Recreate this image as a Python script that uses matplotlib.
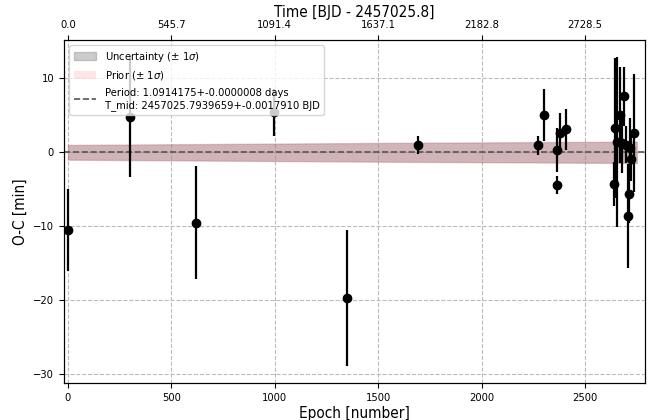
import matplotlib.pyplot as plt
import matplotlib.patches as mpatches
from matplotlib.lines import Line2D

plt.rcParams['font.family'] = ['DejaVu Sans']
plt.rcParams['font.stretch'] = 'condensed'

# -----------------------------------
# Data
# -----------------------------------
period = 1.0914175
epoch = [0, 300, 619, 998, 1347, 1690, 2270, 2300, 2366, 2366, 2377, 2408,
         2638, 2645, 2652, 2668, 2680, 2690, 2697, 2705, 2712, 2718, 2724, 2738]
oc = [-10.5, 4.8, -9.5, 5.4, -19.7, 0.95, 0.95, 5.0, 0.35, -4.4, 2.65, 3.1,
      -4.3, 3.3, 1.4, 5.0, 1.2, 7.6, 1.0, -8.6, -5.6, 0.6, -0.85, 2.65]
oc_err = [5.5, 8.2, 7.6, 3.2, 9.2, 1.2, 1.3, 3.5, 3.0, 1.2, 2.6, 2.8,
          3.0, 9.5, 11.5, 6.5, 4.0, 4.0, 2.5, 7.0, 4.0, 4.0, 3.0, 8.0]

band_epoch = [0, 1500, 2750]
band_halfwidth = [1.0, 1.27, 1.45]

xticks = [0, 500, 1000, 1500, 2000, 2500]
yticks = [-30, -20, -10, 0, 10]

# -----------------------------------
# Plot
# -----------------------------------
fig = plt.figure(figsize=(6.51, 4.2), dpi=100)
ax = fig.add_axes([0.098, 0.088, 0.893, 0.817])

lower = [-h for h in band_halfwidth]
ax.fill_between(band_epoch, lower, band_halfwidth, color='grey', alpha=0.4, lw=0)
ax.fill_between(band_epoch, lower, band_halfwidth, facecolor='#d88a90', edgecolor='#b07078',
                alpha=0.35, lw=1)
ax.plot([-20, 2790], [0, 0], ls='--', color='#555555', lw=1.2)

ax.errorbar(epoch, oc, yerr=oc_err, fmt='o', color='black', ms=6, elinewidth=1.6,
            capsize=0, zorder=3)

ax.set_xlim(-20, 2790)
ax.set_ylim(-31.2, 15.2)
ax.set_xticks(xticks)
ax.set_yticks(yticks)
ax.tick_params(labelsize=8)
ax.grid(True, ls='--', color='#bbbbbb', lw=0.8)
ax.set_axisbelow(True)
ax.set_xlabel('Epoch [number]', fontsize=11, labelpad=2)
ax.set_ylabel('O-C [min]', fontsize=11)

handles = [
    mpatches.Patch(facecolor='grey', alpha=0.4, edgecolor='grey', label=r'Uncertainty ($\pm$ 1$\sigma$)'),
    mpatches.Patch(facecolor='red', alpha=0.1, label=r'Prior ($\pm$ 1$\sigma$)'),
    Line2D([], [], ls='--', color='#555555', lw=1.2,
           label='Period: 1.0914175+-0.0000008 days\nT_mid: 2457025.7939659+-0.0017910 BJD'),
]
ax.legend(handles=handles, loc='upper left', fontsize=8)

top = ax.twiny()
top.set_xlim(ax.get_xlim())
top.set_xticks(xticks)
top.set_xticklabels([f'{e * period:.1f}' for e in xticks])
top.tick_params(labelsize=8)
top.set_xlabel('Time [BJD - 2457025.8]', fontsize=11, labelpad=2)

plt.savefig('out.png', dpi=100)
plt.close()
